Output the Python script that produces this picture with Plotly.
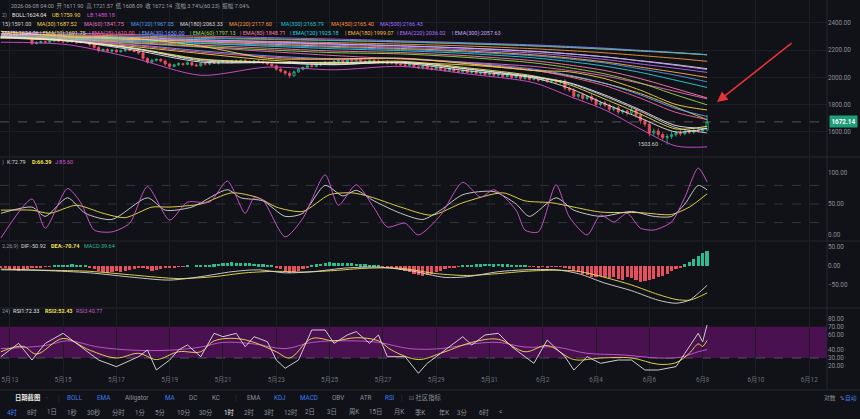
import plotly.graph_objects as go

# ---------------- data ----------------
first_open = 2288.0
closes = [
    2295, 2300, 2292, 2298, 2305, 2296, 2290, 2248, 2255, 2262,
    2258, 2268, 2272, 2265, 2260, 2270, 2262, 2255, 2266, 2258,
    2240, 2220, 2196, 2205, 2192, 2200, 2188, 2195, 2205, 2198,
    2190, 2178, 2140, 2112, 2125, 2132, 2120, 2098, 2080, 2092,
    2100, 2095, 2108, 2090, 2085, 2102, 2098, 2110, 2104, 2112,
    2118, 2110, 2122, 2115, 2125, 2118, 2112, 2120, 2115, 2108,
    2098, 2085, 2060, 2045, 2030, 2012, 2040, 2060, 2072, 2085,
    2080, 2092, 2098, 2110, 2105, 2118, 2125, 2115, 2128, 2122,
    2130, 2118, 2112, 2125, 2120, 2108, 2115, 2102, 2110, 2098,
    2092, 2085, 2095, 2078, 2070, 2082, 2066, 2060, 2072, 2058,
    2050, 2062, 2045, 2040, 2052, 2035, 2042, 2028, 2036, 2020,
    2028, 2015, 2022, 2005, 2012, 1998, 2008, 1992, 2000, 1985,
    1990, 1978, 1985, 1970, 1978, 1965, 1972, 1920, 1905, 1860,
    1872, 1845, 1858, 1835, 1800, 1812, 1795, 1765, 1778, 1745,
    1752, 1738, 1760, 1722, 1680, 1655, 1590, 1605, 1580, 1556,
    1565, 1578, 1592, 1585, 1600, 1596, 1610, 1604, 1611.9, 1672.14,
]
wick_up = [
    8, 6, 10, 5, 12, 7, 9, 6, 10, 8,
    7, 9, 5, 11, 6, 8, 10, 7, 9, 6,
    12, 8, 10, 6, 9, 7, 11, 8, 6, 10,
    9, 7, 12, 8, 10, 6, 9, 11, 7, 8,
    10, 6, 9, 7, 12, 8, 6, 10, 9, 7,
    8, 11, 6, 9, 7, 10, 8, 6, 11, 9,
    7, 10, 8, 12, 9, 14, 10, 8, 7, 9,
    11, 6, 8, 10, 7, 9, 12, 6, 8, 10,
    7, 9, 11, 6, 8, 10, 7, 12, 9, 6,
    8, 10, 7, 9, 11, 6, 8, 10, 7, 9,
    12, 8, 6, 10, 9, 7, 11, 8, 6, 10,
    9, 7, 8, 12, 6, 10, 9, 7, 11, 8,
    10, 6, 9, 8, 7, 11, 10, 14, 12, 16,
    10, 15, 12, 18, 14, 11, 16, 13, 12, 15,
    14, 12, 18, 16, 20, 15, 22, 18, 20, 16,
    18, 22, 16, 20, 14, 18, 15, 20, 16, 49.43,
]
wick_dn = [
    6, 9, 7, 11, 5, 8, 10, 12, 7, 9,
    8, 6, 11, 7, 9, 5, 10, 8, 6, 11,
    14, 10, 12, 8, 7, 11, 9, 6, 10, 8,
    7, 11, 15, 12, 8, 10, 9, 14, 12, 7,
    9, 11, 6, 10, 8, 7, 12, 9, 6, 10,
    7, 9, 11, 6, 10, 8, 7, 12, 9, 11,
    10, 12, 14, 11, 16, 18, 9, 7, 10, 8,
    9, 7, 10, 6, 11, 8, 7, 9, 12, 6,
    8, 10, 7, 11, 9, 6, 10, 8, 7, 12,
    9, 11, 8, 10, 7, 12, 9, 11, 8, 10,
    11, 8, 10, 9, 12, 7, 10, 8, 11, 9,
    8, 10, 9, 11, 7, 10, 8, 12, 9, 10,
    9, 11, 8, 12, 10, 9, 11, 16, 14, 18,
    15, 18, 14, 16, 20, 14, 17, 19, 15, 18,
    16, 19, 15, 20, 22, 18, 24, 20, 22, 20,
    52.4, 18, 14, 16, 12, 15, 13, 11, 10, 3.81,
]

tick_idx = [2, 14, 26, 38, 50, 62, 74, 86, 98, 110, 122, 134, 146, 158, 170, 182]
tick_text = ["5月13", "5月15", "5月17", "5月19", "5月21", "5月23", "5月25", "5月27",
             "5月29", "5月31", "6月2", "6月4", "6月6", "6月8", "6月10", "6月12"]

ma_idx = [0, 15, 30, 45, 60, 75, 90, 105, 120, 128, 136, 144, 152, 159]
ma500 = [2335, 2325, 2314, 2303, 2292, 2281, 2268, 2254, 2238, 2227, 2214, 2198, 2182, 2166.43]
ma450 = [2322, 2313, 2303, 2293, 2283, 2272, 2260, 2246, 2230, 2219, 2207, 2193, 2179, 2165.40]
ma300 = [2312, 2304, 2295, 2286, 2278, 2270, 2260, 2248, 2232, 2221, 2209, 2195, 2181, 2165.79]
ma220 = [2300, 2292, 2283, 2274, 2265, 2255, 2244, 2230, 2210, 2196, 2180, 2160, 2139, 2117.60]
ma180 = [2296, 2287, 2277, 2266, 2255, 2244, 2231, 2214, 2190, 2172, 2150, 2122, 2093, 2063.33]
ma120 = [2292, 2282, 2268, 2252, 2236, 2220, 2205, 2186, 2158, 2134, 2105, 2062, 2015, 1967.05]
ma60 = [2288, 2275, 2250, 2222, 2190, 2160, 2135, 2110, 2080, 2050, 2010, 1955, 1895, 1841.75]
ma30 = [2290, 2268, 2225, 2175, 2128, 2100, 2108, 2090, 2050, 2010, 1955, 1880, 1780, 1687.52]
ma15 = [2296, 2270, 2210, 2130, 2110, 2092, 2112, 2060, 2000, 1955, 1860, 1750, 1630, 1591.00]
ema300 = [2318, 2306, 2292, 2276, 2261, 2246, 2232, 2215, 2192, 2173, 2150, 2120, 2088, 2057.63]
ema220 = [2312, 2300, 2285, 2268, 2252, 2236, 2221, 2203, 2178, 2157, 2131, 2098, 2066, 2036.02]
ema180 = [2308, 2295, 2279, 2261, 2244, 2227, 2212, 2193, 2165, 2142, 2113, 2075, 2036, 1999.07]
ema120 = [2302, 2288, 2270, 2249, 2229, 2210, 2196, 2175, 2143, 2116, 2082, 2036, 1978, 1925.18]
ema80 = [2298, 2283, 2262, 2237, 2214, 2193, 2182, 2158, 2122, 2090, 2050, 1990, 1915, 1848.71]
ema60 = [2296, 2280, 2255, 2227, 2202, 2181, 2172, 2146, 2106, 2070, 2025, 1958, 1870, 1797.13]
ema30 = [2294, 2274, 2240, 2195, 2158, 2136, 2140, 2108, 2060, 2015, 1955, 1870, 1770, 1712]
ema25 = [2294, 2272, 2234, 2185, 2150, 2130, 2138, 2102, 2052, 2003, 1938, 1846, 1742, 1690]
ema10 = [2294, 2268, 2215, 2135, 2112, 2105, 2118, 2070, 2010, 1945, 1840, 1730, 1620, 1640]
ema5 = [2295, 2268, 2200, 2112, 2108, 2110, 2105, 2048, 1995, 1920, 1805, 1700, 1598, 1624.06]
boll_mid = [2298, 2272, 2212, 2122, 2108, 2095, 2110, 2062, 2005, 1960, 1870, 1760, 1645, 1624.04]
boll_ub = [2338, 2300, 2285, 2230, 2140, 2135, 2140, 2100, 2050, 2040, 1990, 1905, 1800, 1759.90]
boll_lb = [2258, 2240, 2140, 2015, 2075, 2055, 2080, 2025, 1960, 1860, 1760, 1620, 1495, 1488.18]

kdj_k_idx = [0, 7, 10, 15, 19, 25, 33, 37, 43, 51, 54, 59, 64, 68, 73, 77, 80, 84, 90, 95,
             99, 104, 111, 116, 119, 125, 129, 135, 142, 147, 151, 154, 157, 159]
kdj_k = [35, 45, 30, 60, 35, 25, 60, 40, 45, 73, 60, 55, 30, 35, 80, 63, 72, 55, 35, 25,
         40, 65, 70, 50, 30, 60, 40, 30, 38, 30, 30, 50, 80, 72.79]
kdj_d_idx = [0, 7, 11, 17, 23, 28, 34, 38, 45, 52, 58, 62, 68, 74, 79, 83, 90, 97, 104, 113,
             118, 124, 129, 135, 144, 151, 155, 159]
kdj_d = [40, 40, 35, 48, 35, 28, 45, 45, 50, 68, 60, 45, 38, 65, 68, 62, 45, 32, 52, 68,
         55, 52, 45, 37, 36, 33, 45, 66.39]
kdj_j_idx = [0, 7, 10, 15, 18, 21, 25, 29, 33, 38, 42, 47, 51, 55, 57, 59, 64, 68, 73, 76,
             80, 84, 87, 91, 94, 99, 104, 108, 111, 116, 118, 121, 125, 128, 132, 135, 138, 141, 144, 147,
             151, 154, 157, 159]
kdj_j = [-5, 58, 11, 75, 52, 8, 5, 19, 78, 24, 53, 53, 87, 35, 60, 56, -3, 27, 97, 48,
         81, 44, 13, 19, 0, 32, 85, 61, 73, 40, 8, 5, 81, 29, 0, 32, 21, 35, 11, 8,
         21, 61, 108, 85.60]

macd_hist = [
    -3, -5, -8, -10, -12, -10, -8, -6,
    -4, -3, -2, -1, 1, 2, 3,
    3, 4, 3, 2, 1,
    -4, -8, -12, -15, -18, -16, -14, -15, -13, -10, -8, -5,
    -6, -9, -12, -10, -8, -6, -5, -3, -2,
    -1, 1, 0, 1, 2, 1,
    2, 4, 6, 8, 9, 10, 9, 8, 9, 7, 6, 5, 4, 3, 2,
    -4, -8, -13, -18, -16, -12, -8, -4,
    2, 4, 6, 8, 10, 9, 8, 9, 7, 8, 6, 5, 4, 3, 2, 1,
    -2, -4, -6, -8, -10, -12, -16, -20, -24, -26, -24, -20, -16, -12, -9, -6, -4, -2,
    1, 2, 3, 4, 5, 6, 6, 5, 6, 5, 4, 3, 2, 1, 1,
    -1, -2, -3, -2, -3, -2, -1, -2,
    -4, -8, -12, -16, -20, -24, -28, -30, -26, -28, -32, -30, -34, -36, -30, -32, -38, -42, -40, -36,
    -34, -30, -26, -20, -14, -8, -4,
    4, 10, 18, 26, 33, 39.64,
]
macd_dif_idx = [0, 10, 20, 30, 38, 45, 52, 58, 64, 70, 78, 85, 92, 100, 105, 112, 118, 125, 130, 136,
                142, 148, 152, 155, 157, 159]
macd_dif = [-10, -12, -18, -30, -37, -28, -15, -10, -18, -15, -5, -3, -12, -30, -28, -15, -10, -10, -20, -45,
            -65, -90, -98, -90, -72, -50.92]
macd_dea_idx = [0, 10, 20, 30, 40, 48, 55, 62, 68, 75, 82, 90, 98, 105, 112, 118, 125, 130, 136, 142,
                148, 152, 155, 157, 159]
macd_dea = [-8, -11, -14, -24, -33, -28, -18, -14, -16, -12, -6, -6, -20, -25, -20, -14, -11, -14, -30, -50,
            -75, -88, -90, -82, -70.74]

rsi1_idx = [0, 4, 7, 10, 14, 18, 22, 26, 31, 33, 35, 38, 40, 42, 45, 48, 50, 53, 55, 57,
            60, 62, 64, 67, 70, 73, 75, 78, 80, 83, 85, 87, 91, 94, 96, 99, 104, 106, 109, 112,
            115, 118, 120, 123, 127, 129, 132, 135, 139, 142, 145, 148, 152, 154, 157, 158, 159]
rsi1 = [31.7, 48.8, 27.4, 48.8, 61.6, 44.5, 27.4, 18.9, 31.7, 40.3, 14.6, 27.4, 40.3, 46.7, 31.7, 61.6, 57.3, 61.6, 44.5, 57.3,
        50.9, 27.4, 16.8, 27.4, 65.9, 65.9, 48.8, 59.5, 63.8, 48.8, 59.5, 31.7, 31.7, 10.4, 23.2, 36, 57.3, 46.7, 59.5, 61.6,
        44.5, 31.7, 23.2, 53, 31.7, 14.6, 31.7, 23.2, 27.4, 27.4, 14.6, 14.6, 18.9, 36, 61.6, 50.9, 72.33]
rsi2_idx = [0, 5, 8, 14, 20, 26, 31, 35, 40, 45, 48, 53, 57, 62, 65, 70, 75, 80, 85, 88,
            94, 99, 106, 112, 118, 123, 129, 135, 142, 148, 152, 155, 157, 158, 159]
rsi2 = [38, 45, 35, 55, 40, 30, 36, 28, 38, 38, 52, 55, 50, 38, 30, 55, 52, 56, 52, 40,
        28, 36, 50, 54, 38, 46, 28, 30, 30, 22, 24, 36, 48, 45, 52.43]
rsi3_idx = [0, 10, 15, 22, 30, 38, 45, 50, 57, 64, 70, 78, 85, 92, 99, 106, 112, 118, 125, 132,
            140, 148, 153, 157, 159]
rsi3 = [42, 46, 52, 44, 40, 40, 44, 50, 48, 42, 50, 52, 50, 42, 42, 48, 50, 44, 44, 36,
        34, 30, 31, 38, 40.77]

# ---------------- style ----------------
W, H = 860, 419
PW, PH = 827, 375
BG = "#111217"
GRID = "#1c1e24"
TXT = "#8b9099"
FONT = "Roboto, 'Noto Sans CJK SC', sans-serif"
FS = 6.3
HFS = 5.5
UP = "#2bbd8e"
DN = "#e6505e"


def px(x):
    return x / PW


def py(y):
    return (PH - y) / PH


idx = list(range(len(closes)))
opens = [first_open] + closes[:-1]
highs = [max(o, c) + w for o, c, w in zip(opens, closes, wick_up)]
lows = [min(o, c) - w for o, c, w in zip(opens, closes, wick_dn)]

fig = go.Figure()

ma_series = [
    (ma500, "#a06cff"), (ma450, "#ff8c3a"), (ma300, "#22c3cf"), (ma220, "#f29b3f"),
    (ma180, "#d8d8d8"), (ma120, "#4f9cf0"), (ma60, "#e86fc6"), (ma30, "#efd64a"),
    (ma15, "#cfcfcf"),
    (ema300, "#c9a0ff"), (ema220, "#b36bff"), (ema180, "#ffb347"), (ema120, "#2bd3e0"),
    (ema80, "#ff7aa8"), (ema60, "#9ad94a"), (ema30, "#6aa2ff"), (ema25, "#ff5fa2"),
    (ema10, "#e8e85a"), (ema5, "#e6e6e6"),
    (boll_ub, "#f5d742"), (boll_mid, "#e9e9e9"), (boll_lb, "#d64fd6"),
]
for vals, col in ma_series:
    fig.add_trace(go.Scatter(x=ma_idx, y=vals, mode="lines", xaxis="x", yaxis="y",
                             line=dict(color=col, width=0.9, shape="spline", smoothing=0.8),
                             hoverinfo="skip", showlegend=False))

fig.add_trace(go.Candlestick(
    x=idx, open=opens, high=highs, low=lows, close=closes, xaxis="x", yaxis="y",
    increasing=dict(line=dict(color=UP, width=0.8), fillcolor="rgba(0,0,0,0)"),
    decreasing=dict(line=dict(color=DN, width=0.8), fillcolor=DN),
    whiskerwidth=0, showlegend=False, hoverinfo="skip"))

# KDJ
for xi, vals, col in [(kdj_d_idx, kdj_d, "#f2e14c"), (kdj_k_idx, kdj_k, "#d9d9d9"), (kdj_j_idx, kdj_j, "#d957d9")]:
    fig.add_trace(go.Scatter(x=xi, y=vals, mode="lines", xaxis="x2", yaxis="y2",
                             line=dict(color=col, width=0.9, shape="spline", smoothing=0.7),
                             hoverinfo="skip", showlegend=False))

# MACD
hist_cols = [UP if v >= 0 else DN for v in macd_hist]
fig.add_trace(go.Bar(x=idx, y=macd_hist, marker=dict(color=hist_cols, line=dict(width=0)),
                     width=0.72, xaxis="x3", yaxis="y3", hoverinfo="skip", showlegend=False))
for xi, vals, col in [(macd_dea_idx, macd_dea, "#f2e14c"), (macd_dif_idx, macd_dif, "#d9d9d9")]:
    fig.add_trace(go.Scatter(x=xi, y=vals, mode="lines", xaxis="x3", yaxis="y3",
                             line=dict(color=col, width=0.9, shape="spline", smoothing=0.8),
                             hoverinfo="skip", showlegend=False))

# RSI
for xi, vals, col, shp in [(rsi3_idx, rsi3, "#c45ad0", "spline"), (rsi2_idx, rsi2, "#f2e14c", "spline"),
                           (rsi1_idx, rsi1, "#e0e0e0", "linear")]:
    fig.add_trace(go.Scatter(x=xi, y=vals, mode="lines", xaxis="x4", yaxis="y4",
                             line=dict(color=col, width=0.9, shape=shp),
                             hoverinfo="skip", showlegend=False))

# ---------------- axes ----------------
xcommon = dict(range=[-0.2, 186.0], tickmode="array", tickvals=tick_idx, ticktext=tick_text,
               showgrid=True, gridcolor=GRID, gridwidth=1, zeroline=False, showline=False,
               ticks="", tickfont=dict(size=FS, color="#6c717a", family=FONT), fixedrange=True)
ycommon = dict(side="right", zeroline=False, showline=False, ticks="", tickformat=".2f",
               tickfont=dict(size=FS, color=TXT, family=FONT), fixedrange=True, tickmode="array")

layout = dict(
    width=W, height=H, margin=dict(l=0, r=W - PW, t=0, b=H - PH),
    paper_bgcolor=BG, plot_bgcolor=BG, showlegend=False, bargap=0,
    font=dict(family=FONT, size=FS, color=TXT),
    xaxis=dict(xcommon, anchor="y", showticklabels=False, rangeslider=dict(visible=False)),
    xaxis2=dict(xcommon, anchor="y2", matches="x", showticklabels=False),
    xaxis3=dict(xcommon, anchor="y3", matches="x", showticklabels=False),
    xaxis4=dict(xcommon, anchor="y4", matches="x", showticklabels=True),
    yaxis=dict(ycommon, anchor="x", domain=[py(156), 1.0], range=[1421.3, 2568.4],
               tickvals=[1600, 1800, 2000, 2200, 2400], showgrid=True, gridcolor=GRID),
    yaxis2=dict(ycommon, anchor="x2", domain=[py(240), py(158)], range=[-8.1, 124.2],
                tickvals=[0, 50, 100], showgrid=False),
    yaxis3=dict(ycommon, anchor="x3", domain=[py(307), py(242)], range=[-107.9, 63.2],
                tickvals=[-50, 0, 50], showgrid=False),
    yaxis4=dict(ycommon, anchor="x4", domain=[0, py(309)], range=[8.2, 92.8],
                tickvals=[20, 30, 40, 60, 70, 80], showgrid=False),
)
fig.update_layout(**layout)

shapes = []
# RSI band
shapes.append(dict(type="rect", xref="paper", yref="y4", x0=0, x1=1, y0=30, y1=70,
                   fillcolor="#4a1150", line=dict(width=0), layer="below"))
shapes.append(dict(type="line", xref="paper", yref="y4", x0=0, x1=1, y0=30, y1=30,
                   line=dict(color="#5b5f68", width=0.8, dash="dash"), layer="below"))
# KDJ dashed levels
for lv in (80, 50, 20):
    shapes.append(dict(type="line", xref="paper", yref="y2", x0=0, x1=1, y0=lv, y1=lv,
                       line=dict(color="#3b3e46", width=0.8, dash="dash"), layer="below"))
# last price dashed line
shapes.append(dict(type="line", xref="paper", yref="y", x0=0, x1=1, y0=closes[-1], y1=closes[-1],
                   line=dict(color="#5f646c", width=0.8, dash="dash"), layer="below"))
# pane separators
for yy in (157, 241, 308):
    shapes.append(dict(type="line", xref="paper", yref="paper", x0=0, x1=W / PW, y0=py(yy), y1=py(yy),
                       line=dict(color="#24262c", width=1)))
shapes.append(dict(type="line", xref="paper", yref="paper", x0=1, x1=1, y0=py(390), y1=1,
                   line=dict(color="#24262c", width=1)))
shapes.append(dict(type="line", xref="paper", yref="paper", x0=0, x1=W / PW, y0=py(390), y1=py(390),
                   line=dict(color="#24262c", width=1)))
fig.update_layout(shapes=shapes)

anns = []


def ann(x, y, text, color=TXT, size=FS, xanchor="left", bold=False, **kw):
    t = f"<b>{text}</b>" if bold else text
    anns.append(dict(x=px(x), y=py(y), xref="paper", yref="paper", text=t, showarrow=False,
                     xanchor=xanchor, yanchor="middle", font=dict(size=size, color=color, family=FONT), **kw))


# header rows main pane
ann(9, 5.5, "2026-06-08 04:00  开 1611.90  高 1721.57  低 1608.09  收 1672.14  涨幅 3.74%(60.23)  振幅 7.04%",
    "#9aa0a8", size=HFS)
ann(0, 15, "2)", TXT, size=HFS)
ann(10, 15, "BOLL:1624.04", "#e6e6e6", size=HFS)
ann(50, 15, "UB:1759.90", "#efd64a", size=HFS)
ann(85, 15, "LB:1488.18", "#d64fd6", size=HFS)
row3 = [(0, "15):1591.00", "#cfcfcf"), (35, "MA(30):1687.52", "#efd64a"), (82, "MA(60):1841.75", "#e86fc6"),
        (129, "MA(120):1967.05", "#4f9cf0"), (178, "MA(180):2063.33", "#d8d8d8"),
        (227, "MA(220):2117.60", "#f29b3f"), (279, "MA(300):2165.79", "#22c3cf"),
        (329, "MA(450):2165.40", "#ff8c3a"), (378, "MA(500):2166.43", "#a06cff")]
for x, t, c in row3:
    ann(x, 24.3, t, c, size=HFS)
row4 = [(0, "MA(5):1624.06", "#e6e6e6"), (38, "| EMA(10):1691.75", "#e8e85a"),
        (87, "| EMA(25):1610.00", "#ff5fa2"), (137, "| EMA(30):1650.00", "#6aa2ff"),
        (188, "| EMA(60):1797.13", "#9ad94a"), (238, "| EMA(80):1848.71", "#ff7aa8"),
        (288, "| EMA(120):1925.18", "#2bd3e0"), (343, "| EMA(180):1999.07", "#ffb347"),
        (395, "| EMA(220):2036.02", "#b36bff"), (450, "| EMA(300):2057.63", "#c9a0ff")]
for x, t, c in row4:
    ann(x, 33.5, t, c, size=HFS)

# indicator headers
ann(0, 162, ")", TXT, size=HFS)
ann(5, 162, "K:72.79", "#d9d9d9", size=HFS)
ann(30, 162, "D:66.39", "#f2e14c", size=HFS, bold=True)
ann(53, 162, "J:85.60", "#d957d9", size=HFS)
ann(0, 246, "2,26,9)", TXT, size=HFS)
ann(19, 246, "DIF:-50.92", "#d9d9d9", size=HFS)
ann(49, 246, "DEA:-70.74", "#f2e14c", size=HFS, bold=True)
ann(82, 246, "MACD:39.64", UP, size=HFS)
ann(0, 311, "24)", TXT, size=HFS)
ann(11, 311, "RSI1:72.33", "#e0e0e0", size=HFS)
ann(43, 311, "RSI2:52.43", "#f2e14c", size=HFS, bold=True)
ann(74, 311, "RSI3:40.77", "#c45ad0", size=HFS)

# low marker
ann(636, 143.5, "1503.60  ·", "#d0d0d0", size=HFS)

# last price tag
anns.append(dict(x=px(829), y=closes[-1], xref="paper", yref="y", text="<b>1672.14</b>", showarrow=False,
                 xanchor="left", yanchor="middle", bgcolor="#1f9e79", borderpad=1.5,
                 font=dict(size=FS, color="#ffffff", family=FONT)))

# red arrow
anns.append(dict(x=px(717), y=py(102), xref="paper", yref="paper", text="", showarrow=True,
                 ax=76, ay=-60, axref="pixel", ayref="pixel", arrowcolor="#e5333a",
                 arrowwidth=1.6, arrowhead=2, arrowsize=1.3))

# toolbar row 1
ann(13, 398, "日期截图", "#e6e6e6", bold=True)
ann(44, 398, "·", TXT)
ann(56, 398, "|", "#3a3d44")
for x, t, c in [(65, "BOLL", "#3d7bf5"), (95, "EMA", "#3d7bf5"), (123, "Alligator", TXT),
                (163, "MA", "#3d7bf5"), (187, "DC", TXT), (210, "KC", TXT),
                (245, "EMA", TXT), (272, "KDJ", "#3d7bf5"), (298, "MACD", "#3d7bf5"),
                (330, "OBV", TXT), (358, "ATR", TXT), (383, "RSI", "#3d7bf5"),
                (407, "⊡ 社区指标", TXT)]:
    ann(x, 398, t, c)
ann(233, 398, "|", "#3a3d44")
ann(399, 398, "|", "#3a3d44")
ann(822, 398, "对数", TXT, size=5.8)
ann(838, 398, "%", TXT, size=5.8)
ann(859, 398, "自动", "#3d7bf5", size=5.8, xanchor="right")

# toolbar row 2
row2 = [(5, "4时", "#3d7bf5"), (25, "8时", TXT), (45, "1日", TXT), (65, "1秒", TXT), (85, "30秒", TXT),
        (110, "分时", TXT), (133, "1分", TXT), (153, "5分", TXT), (175, "10分", TXT), (197, "30分", TXT),
        (222, "1时", "#e6e6e6"), (242, "2时", TXT), (262, "3时", TXT), (282, "12时", TXT), (303, "2日", TXT),
        (325, "3日", TXT), (347, "周K", TXT), (367, "15日", TXT), (392, "月K", TXT), (413, "季K", TXT),
        (437, "年K", TXT), (455, "3分", TXT), (477, "6时", TXT), (497, "<", TXT)]
for x, t, c in row2:
    ann(x, 412, t, c)

fig.update_layout(annotations=anns)

fig.write_html("out.html", config={"displayModeBar": False})
